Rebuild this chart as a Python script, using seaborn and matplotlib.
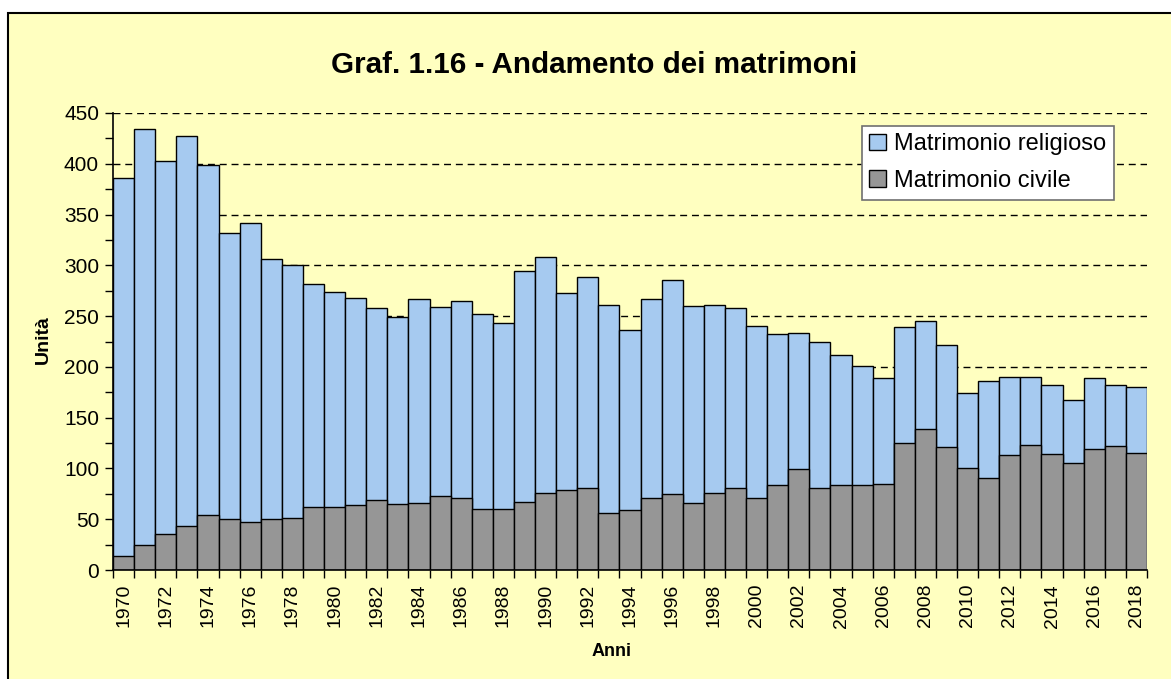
import matplotlib
matplotlib.use("Agg")
import matplotlib.pyplot as plt
from matplotlib.patches import Rectangle, Patch
from matplotlib.ticker import MultipleLocator, FixedLocator
import seaborn as sns
import pandas as pd
import numpy as np

years = list(range(1970, 2019))
civile = [14, 25, 35, 43, 54, 50, 47, 50, 51, 62, 62, 64, 69, 65, 66, 73, 71, 60, 60, 67,
          76, 79, 81, 56, 59, 71, 75, 66, 76, 81, 71, 84, 99, 81, 84, 84, 85, 125, 139, 121,
          100, 91, 113, 123, 114, 105, 119, 122, 115]
religioso = [372, 409, 368, 384, 345, 282, 295, 256, 249, 220, 212, 204, 189, 184, 201, 186,
             194, 192, 183, 227, 232, 194, 208, 205, 177, 196, 211, 194, 185, 177, 169, 148,
             134, 144, 128, 117, 104, 114, 106, 101, 74, 95, 77, 67, 68, 62, 70, 60, 65]

title = "Graf. 1.16 - Andamento dei matrimoni"
series_names = ["Matrimonio religioso", "Matrimonio civile"]
xlabel = "Anni"
ylabel = "Unità"

BG = "#FFFFC0"
BLUE = "#A6CAF0"
GRAY = "#969696"

plt.rcParams['font.family'] = ['Liberation Sans', 'DejaVu Sans']

df = pd.DataFrame({
    "anno": [str(y) for y in years],
    "civile": civile,
    "totale": np.array(civile) + np.array(religioso),
})

fig = plt.figure(figsize=(11.71, 6.79), dpi=100, facecolor="white")
fig.patches.append(Rectangle((8 / 1171, -0.01), 1.02, 1 - 13 / 679 + 0.01,
                             transform=fig.transFigure, facecolor=BG,
                             edgecolor="black", linewidth=1.5, zorder=-5))

ax = fig.add_axes([113 / 1171, 1 - 570 / 679, (1147 - 113) / 1171, (570 - 113) / 679])
ax.set_zorder(1)
ax.set_facecolor(BG)
ax.set_axisbelow(True)

sns.barplot(data=df, x="anno", y="totale", color=BLUE, saturation=1, width=1,
            edgecolor="black", linewidth=1.0, ax=ax)
sns.barplot(data=df, x="anno", y="civile", color=GRAY, saturation=1, width=1,
            edgecolor="black", linewidth=1.0, ax=ax)

ax.set_xlim(-0.5, len(years) - 0.5)
ax.set_ylim(0, 450)

ax.yaxis.set_major_locator(MultipleLocator(50))
ax.yaxis.set_minor_locator(MultipleLocator(25))
ax.tick_params(axis="y", which="both", direction="out", length=6, width=1,
               labelsize=15, colors="black", pad=4)
ax.grid(axis="y", which="major", color="black", linestyle=(0, (5, 3.5)), linewidth=1)
ax.grid(axis="x", visible=False)

# x: labels every 2 years, tick marks at bar boundaries
label_pos = list(range(0, len(years), 2))
ax.set_xticks(label_pos)
ax.set_xticklabels([str(years[i]) for i in label_pos], rotation=90, fontsize=14)
ax.xaxis.set_minor_locator(FixedLocator(np.arange(-0.5, len(years), 1.0)))
ax.tick_params(axis="x", which="major", length=0, pad=10)
ax.tick_params(axis="x", which="minor", length=6, width=1, direction="out")

for s in ["top", "right"]:
    ax.spines[s].set_visible(False)
for s in ["left", "bottom"]:
    ax.spines[s].set_color("black")
    ax.spines[s].set_linewidth(1.2)

ax.set_xlabel("")
ax.set_ylabel("")
fig.text(612 / 1171, 1 - 651 / 679, xlabel, ha="center", va="center",
         fontsize=13, fontweight="bold")
fig.text(43 / 1171, 1 - 340 / 679, ylabel, ha="center", va="center",
         fontsize=14, fontweight="bold", rotation=90)
fig.text(594 / 1171, 1 - 65 / 679, title, ha="center", va="center",
         fontsize=21.3, fontweight="bold")

handles = [Patch(facecolor=BLUE, edgecolor="black", linewidth=1),
           Patch(facecolor=GRAY, edgecolor="black", linewidth=1)]
leg = ax.legend(handles, series_names, loc="upper right",
                bbox_to_anchor=(0.968, 0.972), borderaxespad=0, fontsize=17,
                frameon=True, fancybox=False, framealpha=1, edgecolor="#707070",
                handlelength=0.7, handleheight=0.7, handletextpad=0.35,
                labelspacing=0.62, borderpad=0.32)
leg.get_frame().set_linewidth(1.2)

fig.savefig("out.png", dpi=100, facecolor="white")
